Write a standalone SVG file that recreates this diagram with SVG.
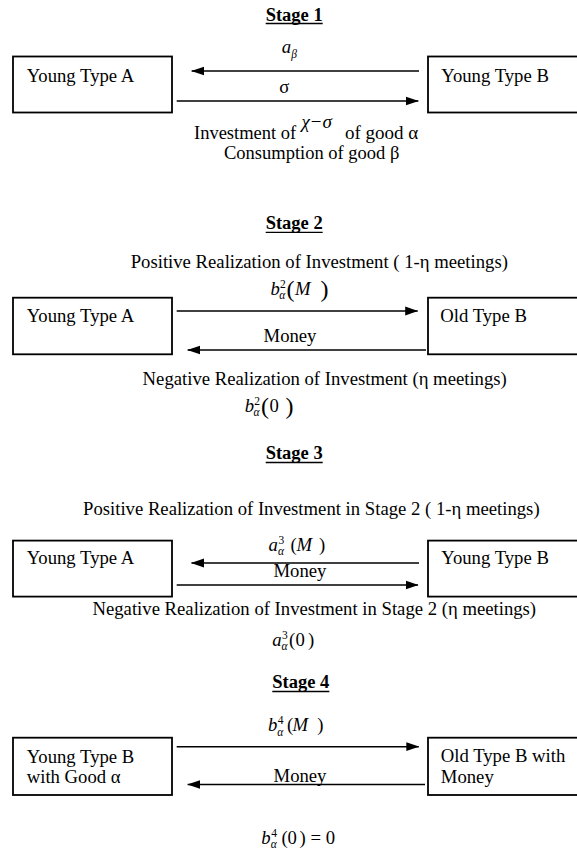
<svg xmlns="http://www.w3.org/2000/svg" width="577" height="853" viewBox="0 0 577 853">
<style>
text{font-family:"Liberation Serif","Times New Roman",serif;fill:#000}
.t{font-size:18.7px}
.c{font-size:18.7px;text-anchor:middle}
.h{font-size:18.5px;font-weight:bold;text-anchor:middle}
.mi{font-size:18.7px;font-style:italic}
.mr{font-size:18.7px}
.big{font-size:24px}
.sup{font-size:11.5px}
.sub{font-size:11.5px;font-style:italic}
.box{fill:#fff;stroke:#000;stroke-width:1.8}
.ul{stroke:#000;stroke-width:1.3}
.arr{stroke:#000;stroke-width:1.6;fill:none;marker-end:url(#ah)}
</style>
<defs>
<marker id="ah" markerUnits="userSpaceOnUse" markerWidth="13" markerHeight="10" viewBox="0 0 13 10" refX="12.5" refY="5" orient="auto">
<path d="M0,0.6 L13,5 L0,9.4 z" fill="#000"/>
</marker>
</defs>
<rect width="577" height="853" fill="#fff"/>

<!-- Titles -->
<g id="title1"><text class="h" x="294.2" y="20.7">Stage 1</text><line class="ul" x1="265.7" y1="23.5" x2="322.7" y2="23.5"/></g>
<g id="title2"><text class="h" x="294.2" y="229.3">Stage 2</text><line class="ul" x1="265.7" y1="232.3" x2="322.7" y2="232.3"/></g>
<g id="title3"><text class="h" x="294.2" y="459.3">Stage 3</text><line class="ul" x1="265.7" y1="462.5" x2="322.7" y2="462.5"/></g>
<g id="title4"><text class="h" x="300.8" y="688.3">Stage 4</text><line class="ul" x1="272.3" y1="691.5" x2="329.3" y2="691.5"/></g>

<!-- Stage 1 nodes -->
<g id="s1-young-a"><rect class="box" x="13" y="56.5" width="159" height="56"/><text class="t" x="26.7" y="81.7">Young Type A</text></g>
<g id="s1-young-b"><rect class="box" x="428" y="56.5" width="160" height="56"/><text class="t" x="441.3" y="81.7">Young Type B</text></g>

<!-- Stage 2 nodes -->
<g id="s2-young-a"><rect class="box" x="13" y="297.7" width="159" height="56.6"/><text class="t" x="26.7" y="321.7">Young Type A</text></g>
<g id="s2-old-b"><rect class="box" x="428" y="297.7" width="160" height="56.6"/><text class="t" x="440.3" y="321.7">Old Type B</text></g>

<!-- Stage 3 nodes -->
<g id="s3-young-a"><rect class="box" x="13" y="540.6" width="159" height="56"/><text class="t" x="26.7" y="564">Young Type A</text></g>
<g id="s3-young-b"><rect class="box" x="428" y="540.6" width="160" height="56"/><text class="t" x="441.3" y="564">Young Type B</text></g>

<!-- Stage 4 nodes -->
<g id="s4-young-b"><rect class="box" x="13" y="737.7" width="159" height="57.3"/><text class="t" x="26.7" y="762.7">Young Type B</text><text class="t" x="26.7" y="783.3">with Good α</text></g>
<g id="s4-old-b"><rect class="box" x="428" y="737.7" width="160" height="57.3"/><text class="t" x="440.8" y="762.3">Old Type B with</text><text class="t" x="440.8" y="783.3">Money</text></g>

<!-- Connectors -->
<g id="connectors">
<line class="arr" x1="419" y1="71" x2="191.7" y2="71"/>
<line class="arr" x1="176.7" y1="101" x2="418.3" y2="101"/>
<line class="arr" x1="176.7" y1="311" x2="417.7" y2="311"/>
<line class="arr" x1="426" y1="350" x2="187.7" y2="350"/>
<line class="arr" x1="419" y1="563" x2="191.5" y2="563"/>
<line class="arr" x1="176.7" y1="585" x2="418" y2="585"/>
<line class="arr" x1="176.7" y1="746.7" x2="418.8" y2="746.7"/>
<line class="arr" x1="425" y1="784.5" x2="187.7" y2="784.5"/>
</g>

<!-- Stage 1 labels -->
<g id="s1-labels">
<text class="mi" x="281.7" y="53.3">a</text><text class="sub" x="291.2" y="58">β</text>
<text class="c" x="284.3" y="93.3">σ</text>
<text class="t" x="194" y="138.5" style="font-size:18.5px">Investment of</text>
<text class="mi" x="301.5" y="127.5" style="font-size:19px">χ<tspan font-style="normal" dx="1">−</tspan><tspan dx="1">σ</tspan></text>
<text class="t" x="345" y="138.5" style="font-size:19px">of good α</text>
<text class="c" x="311.7" y="159" style="font-size:18.5px">Consumption of good β</text>
</g>

<!-- Stage 2 labels -->
<g id="s2-labels">
<text class="c" x="319.3" y="268.3">Positive Realization of Investment ( 1-η meetings)</text>
<text class="mi" x="270.5" y="295">b</text><text class="sup" x="280" y="287.5">2</text><text class="sub" x="279.3" y="299">α</text>
<text class="mr big" x="286.5" y="296.5">(</text><text class="mi" x="295" y="295">M</text><text class="mr big" x="320.5" y="296.5">)</text>
<text class="c" x="290" y="342.3">Money</text>
<text class="c" x="324.7" y="385">Negative Realization of Investment (η meetings)</text>
<text class="mi" x="244.7" y="412">b</text><text class="sup" x="254.3" y="404.5">2</text><text class="sub" x="253.6" y="416">α</text>
<text class="mr big" x="261" y="413.5">(</text><text class="mr" x="269.5" y="412">0</text><text class="mr big" x="285.5" y="413.5">)</text>
</g>

<!-- Stage 3 labels -->
<g id="s3-labels">
<text class="c" x="311.3" y="515">Positive Realization of Investment in Stage 2 ( 1-η meetings)</text>
<text class="mi" x="268.6" y="551">a</text><text class="sup" x="278.5" y="543.5">3</text><text class="sub" x="278" y="555">α</text>
<text class="mr" x="290.5" y="551">(</text><text class="mi" x="296.5" y="551">M</text><text class="mr" x="319" y="551">)</text>
<text class="c" x="299.9" y="576.7">Money</text>
<text class="c" x="314.3" y="615">Negative Realization of Investment in Stage 2 (η meetings)</text>
<text class="mi" x="272.3" y="646">a</text><text class="sup" x="282" y="638.5">3</text><text class="sub" x="281.5" y="650">α</text>
<text class="mr" x="289" y="646">(</text><text class="mr" x="295.5" y="646">0</text><text class="mr" x="308" y="646">)</text>
</g>

<!-- Stage 4 labels -->
<g id="s4-labels">
<text class="mi" x="267.9" y="731.3">b</text><text class="sup" x="277.8" y="723.8">4</text><text class="sub" x="277.3" y="735.5">α</text>
<text class="mr" x="287" y="731.3">(</text><text class="mi" x="292.6" y="731.3">M</text><text class="mr" x="317.2" y="731.3">)</text>
<text class="c" x="300" y="781.7">Money</text>
<text class="mi" x="261.3" y="844">b</text><text class="sup" x="271.2" y="836.5">4</text><text class="sub" x="270.7" y="848">α</text>
<text class="mr" x="281.5" y="844">(</text><text class="mr" x="287.5" y="844">0</text><text class="mr" x="299.5" y="844">)</text>
<text class="mr" x="310.5" y="844">=</text><text class="mr" x="325.7" y="844">0</text>
</g>
</svg>
